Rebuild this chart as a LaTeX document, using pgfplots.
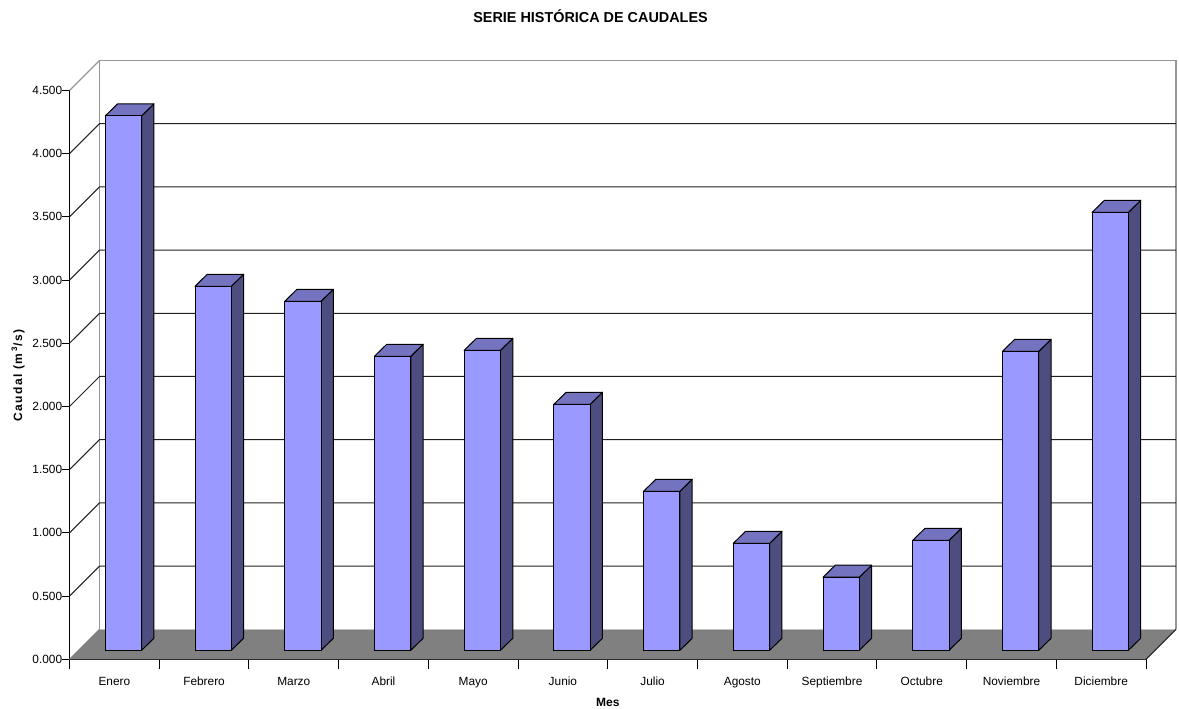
\documentclass[border=0pt]{standalone}
\usepackage{fontspec}
\setmainfont{Liberation Sans}
\usepackage{pgfplots}
\usepackage{pgfplotstable}
\pgfplotsset{compat=1.18}
\definecolor{barfront}{HTML}{9999FF}
\definecolor{bartop}{HTML}{7373C0}
\definecolor{barside}{HTML}{4D4D80}
\definecolor{floorc}{HTML}{808080}
\definecolor{wallc}{HTML}{969696}
\definecolor{gridc}{HTML}{202020}
\pgfplotstableread{
x v
0.5 4.228
1.5 2.880
2.5 2.761
3.5 2.326
4.5 2.373
5.5 1.946
6.5 1.258
7.5 0.846
8.5 0.578
9.5 0.870
10.5 2.365
11.5 3.465
}\caudales
% faces of the bar: index, value
\newcommand\barfaces[2]{%
  \pgfmathsetmacro\xl{#1+0.399}%
  \pgfmathsetmacro\xr{#1+0.804}%
  \pgfmathsetmacro\xlb{#1+0.536}%
  \pgfmathsetmacro\xrb{#1+0.941}%
  \pgfmathsetmacro\yf{#2+0.0712}%
  \pgfmathsetmacro\yb{#2+0.1661}%
  \edef\tmp{\noexpand\addplot[fill=barside,draw=black,line width=0.75pt,line join=round] coordinates {(\xr,0.0712) (\xrb,0.1661) (\xrb,\yb) (\xr,\yf)} --cycle;
  \noexpand\addplot[fill=bartop,draw=black,line width=0.75pt,line join=round] coordinates {(\xl,\yf) (\xlb,\yb) (\xrb,\yb) (\xr,\yf)} --cycle;}%
  \tmp}
\begin{document}
\begin{tikzpicture}
\useasboundingbox (-52.125pt,-37.275pt) rectangle (832.125pt,494.475pt);
\begin{axis}[
  scale only axis,
  width=807.4pt, height=426.6pt,
  xmin=0, xmax=12, ymin=0, ymax=4.5,
  clip=false,
  axis lines=left,
  axis line style={-,line width=0.75pt,black},
  tick style={black,line width=0.75pt},
  tick align=outside,
  major tick length=5.5pt,
  xtick={0.5,1.5,2.5,3.5,4.5,5.5,6.5,7.5,8.5,9.5,10.5,11.5},
  xticklabels={Enero,Febrero,Marzo,Abril,Mayo,Junio,Julio,Agosto,Septiembre,Octubre,Noviembre,Diciembre},
  major x tick style={draw=none},
  extra x ticks={0,1,2,3,4,5,6,7,8,9,10,11,12},
  extra x tick labels={},
  extra x tick style={major tick length=7.5pt, major x tick style={draw=black,line width=0.75pt}},
  ytick={0,0.5,1,1.5,2,2.5,3,3.5,4,4.5},
  scaled y ticks=false,
  tick label style={font=\fontsize{8.9}{10}\selectfont},
  xticklabel style={yshift=-4.3pt,text height=6.5pt,text depth=2pt},
  yticklabel style={xshift=3.5pt,/pgf/number format/.cd,fixed,fixed zerofill,precision=3,assume math mode=true},
  title={\textbf{SERIE HISTÓRICA DE CAUDALES}},
  title style={at={(axis description cs:0.484,1.117)},anchor=center,yshift=0pt,font=\fontsize{10.8}{12}\selectfont},
  xlabel={\textbf{Mes}},
  xlabel style={at={(axis description cs:0.5,-0.075)},anchor=center,font=\fontsize{9}{10}\selectfont},
  ylabel={\addfontfeature{LetterSpace=12}\textbf{Caudal (m\,\textsuperscript{3}/s)}},
  ylabel style={at={(axis description cs:-0.0478,0.5)},anchor=center,font=\fontsize{9}{10}\selectfont},
]
% back wall and floor
\addplot[draw=none,fill=floorc] coordinates {(0,0) (0.3345,0.2373) (12.3345,0.2373) (12,0)} --cycle;
\addplot[draw=wallc,line width=1pt] coordinates {(0.3345,0.2373) (0.3345,4.7373) (12.3345,4.7373) (12.3345,0.2373)};
\addplot[draw=wallc,line width=1pt] coordinates {(0,4.5) (0.3345,4.7373)};
\addplot[draw=wallc!60,line width=0.75pt] coordinates {(0.3345,0.2373) (12.3345,0.2373)};
\addplot[draw=floorc,line width=0.75pt] coordinates {(0,0) (0.3345,0.2373)};
\addplot[draw=gridc,line width=0.75pt] coordinates {(12,0) (12.3345,0.2373)};
% grid
\addplot[draw=gridc,line width=0.75pt] coordinates {(0,0.5) (0.3345,0.7373) (12.3345,0.7373)};
\addplot[draw=gridc,line width=0.75pt] coordinates {(0,1.0) (0.3345,1.2373) (12.3345,1.2373)};
\addplot[draw=gridc,line width=0.75pt] coordinates {(0,1.5) (0.3345,1.7373) (12.3345,1.7373)};
\addplot[draw=gridc,line width=0.75pt] coordinates {(0,2.0) (0.3345,2.2373) (12.3345,2.2373)};
\addplot[draw=gridc,line width=0.75pt] coordinates {(0,2.5) (0.3345,2.7373) (12.3345,2.7373)};
\addplot[draw=gridc,line width=0.75pt] coordinates {(0,3.0) (0.3345,3.2373) (12.3345,3.2373)};
\addplot[draw=gridc,line width=0.75pt] coordinates {(0,3.5) (0.3345,3.7373) (12.3345,3.7373)};
\addplot[draw=gridc,line width=0.75pt] coordinates {(0,4.0) (0.3345,4.2373) (12.3345,4.2373)};
% side and top faces
\pgfplotsinvokeforeach{0,...,11}{%
  \pgfplotstablegetelem{#1}{v}\of\caudales
  \barfaces{#1}{\pgfplotsretval}%
}
% front faces
\addplot[ybar,bar width=27.2pt,bar shift=6.9pt,yshift=6.75pt,fill=barfront,draw=black,line width=0.75pt] table[x=x,y=v] {\caudales};
\end{axis}
\end{tikzpicture}
\end{document}
